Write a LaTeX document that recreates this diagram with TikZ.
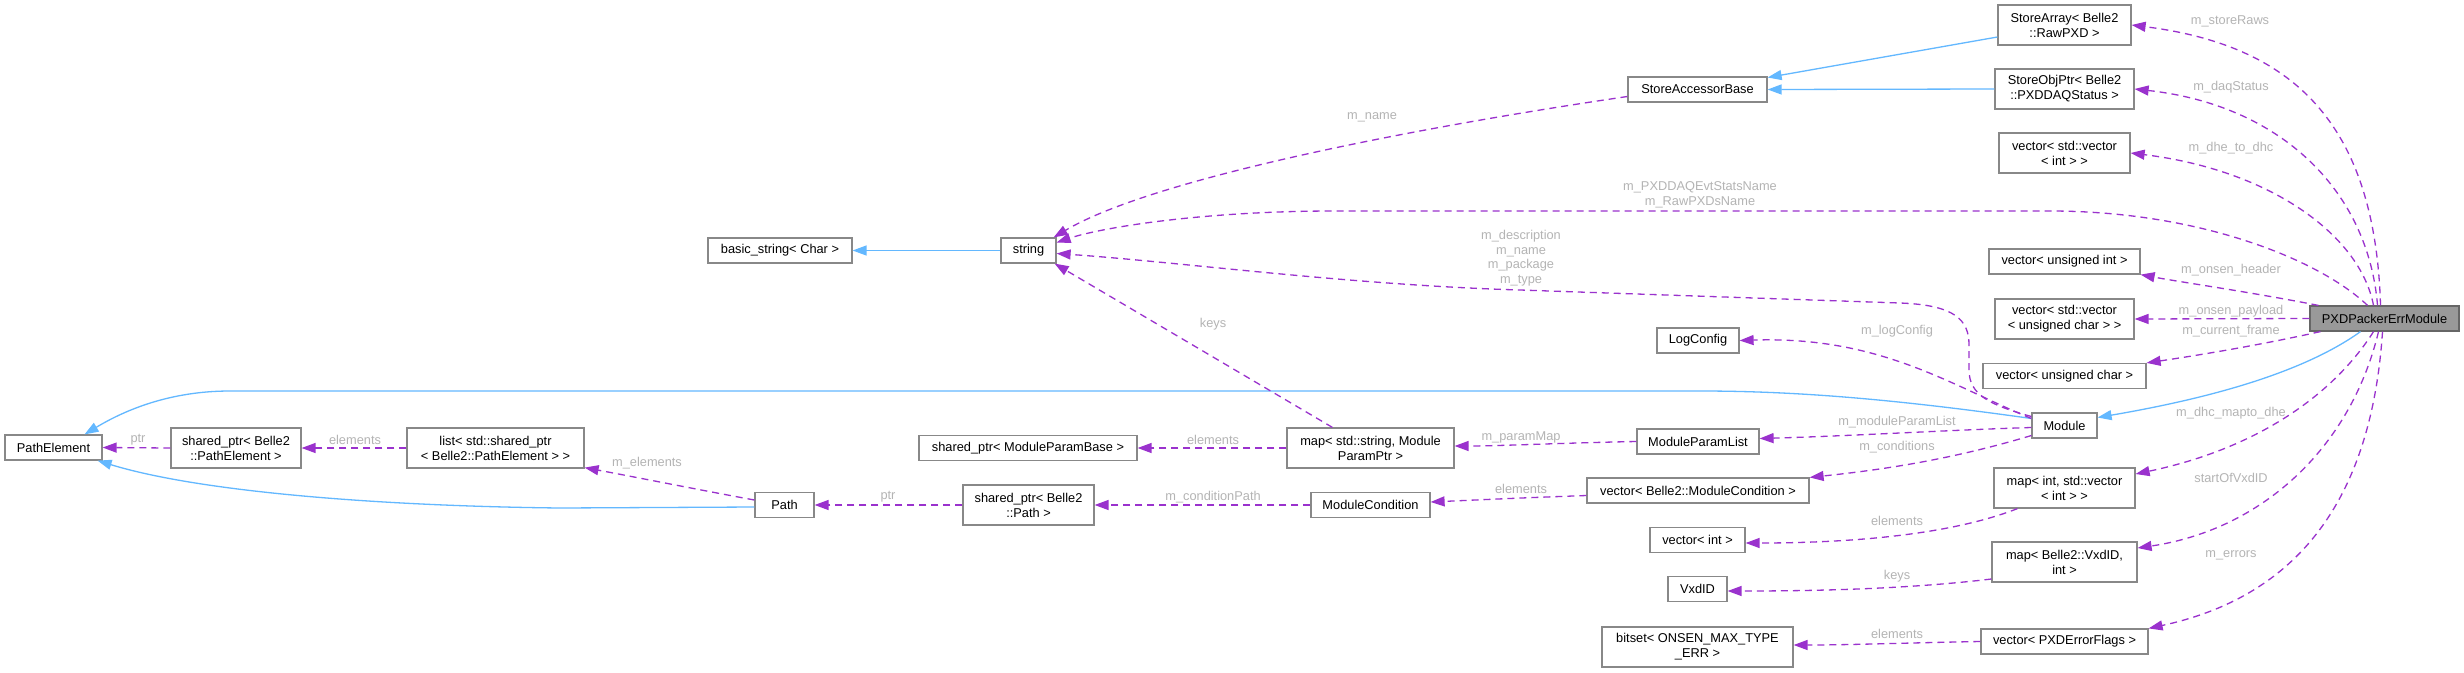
\documentclass[tikz,border=0pt]{standalone}
\usepackage{fontspec}
\setmainfont{Liberation Sans}
\usetikzlibrary{arrows.meta,calc}
\definecolor{cInh}{HTML}{63B8FF}
\definecolor{cUsg}{HTML}{9A32CD}
\definecolor{cLbl}{HTML}{B4B4B4}
\definecolor{cBord}{HTML}{888888}
\definecolor{cPxdFill}{HTML}{999999}
\definecolor{cPxdBord}{HTML}{666666}
\begin{document}
\begin{tikzpicture}[x=1pt,y=-1pt,
  box/.style={draw=cBord, line width=1.2pt, fill=white, inner sep=0pt, align=center,
    font=\fontsize{12.8}{15}\selectfont, text=black},
  lbl/.style={text=cLbl, inner sep=0pt, align=center, font=\fontsize{12.8}{14.5}\selectfont},
  inhedge/.style={draw=cInh, line width=1.3pt, -{Triangle[length=14pt,width=10pt,fill=cInh]}},
  usgedge/.style={draw=cUsg, line width=1.3pt, dash pattern=on 7pt off 5pt,
    -{Triangle[length=14pt,width=10pt,fill=cUsg]}}]
\useasboundingbox (0,0) rectangle (2464,672);
\fill[white] (0,0) rectangle (2464,672);

% nodes
\node[box, minimum width=97pt, minimum height=25pt] (pe) at (53.5,447.5) {PathElement};
\node[box, minimum width=130pt, minimum height=40pt] (spe) at (236,448) {shared\_ptr< Belle2\\::PathElement >};
\node[box, minimum width=177pt, minimum height=40pt] (lst) at (495.5,448) {list< std::shared\_ptr\\< Belle2::PathElement > >};
\node[box, minimum width=144pt, minimum height=25pt] (bstr) at (780,250.5) {basic\_string< Char >};
\node[box, minimum width=59pt, minimum height=25pt] (path) at (784.5,505) {Path};
\node[box, minimum width=55pt, minimum height=25pt] (str) at (1028.5,250.5) {string};
\node[box, minimum width=218pt, minimum height=25pt] (spmpb) at (1028,448) {shared\_ptr< ModuleParamBase >};
\node[box, minimum width=131pt, minimum height=40pt] (sppath) at (1028.5,505) {shared\_ptr< Belle2\\::Path >};
\node[box, minimum width=167pt, minimum height=40pt] (mapstr) at (1370.5,448) {map< std::string, Module\\ParamPtr >};
\node[box, minimum width=119pt, minimum height=25pt] (modcond) at (1370.5,505) {ModuleCondition};
\node[box, minimum width=139pt, minimum height=25pt] (sab) at (1697.5,89.5) {StoreAccessorBase};
\node[box, minimum width=82pt, minimum height=25pt] (logc) at (1698,340.5) {LogConfig};
\node[box, minimum width=122pt, minimum height=25pt] (mpl) at (1698,441.5) {ModuleParamList};
\node[box, minimum width=222pt, minimum height=25pt] (vmc) at (1698,490.5) {vector< Belle2::ModuleCondition >};
\node[box, minimum width=95pt, minimum height=25pt] (vint) at (1697.5,540) {vector< int >};
\node[box, minimum width=59pt, minimum height=25pt] (vxd) at (1697.5,589) {VxdID};
\node[box, minimum width=191pt, minimum height=40pt] (bits) at (1697.5,647) {bitset< ONSEN\_MAX\_TYPE\\\_ERR >};
\node[box, minimum width=133pt, minimum height=40pt] (sa) at (2064.5,25) {StoreArray< Belle2\\::RawPXD >};
\node[box, minimum width=139pt, minimum height=40pt] (sop) at (2064.5,89) {StoreObjPtr< Belle2\\::PXDDAQStatus >};
\node[box, minimum width=131pt, minimum height=40pt] (vvi) at (2064.5,153) {vector< std::vector\\< int > >};
\node[box, minimum width=151pt, minimum height=25pt] (vui) at (2064.5,261.5) {vector< unsigned int >};
\node[box, minimum width=139pt, minimum height=40pt] (vvuc) at (2064.5,319) {vector< std::vector\\< unsigned char > >};
\node[box, minimum width=163pt, minimum height=25pt] (vuc) at (2064.5,376) {vector< unsigned char >};
\node[box, minimum width=65pt, minimum height=25pt] (mod) at (2064.5,425.5) {Module};
\node[box, minimum width=141pt, minimum height=40pt] (mivi) at (2064.5,488) {map< int, std::vector\\< int > >};
\node[box, minimum width=145pt, minimum height=40pt] (mvxd) at (2064.5,562) {map< Belle2::VxdID,\\int >};
\node[box, minimum width=167pt, minimum height=25pt] (verr) at (2064.5,641.5) {vector< PXDErrorFlags >};
\node[box, minimum width=149pt, minimum height=25pt, fill=cPxdFill, draw=cPxdBord] (pxd) at (2384.5,318.5) {PXDPackerErrModule};

% inheritance edges
\draw[inhedge] ($(sa.west)+(0,12)$) -- ($(sab.east)+(0,-12)$);
\draw[inhedge] (sop.west) -- (sab.east);
\draw[inhedge] (str.west) -- (bstr.east);
\draw[inhedge] ($(pxd.south)+(-24,0)$) .. controls (2300,375) and (2200,400) .. ($(mod.east)+(0,-8)$);
\draw[inhedge] ($(mod.west)+(0,-7)$) .. controls (1900,400) and (1800,391) .. (1700,391) -- (230,391) .. controls (170,391) and (125,410) .. ($(pe.north)+(31,0)$);
\draw[inhedge] ($(path.west)+(0,2)$) -- (560,508) .. controls (380,506) and (200,492) .. ($(pe.south east)+(-5,0)$);

% usage edges
\draw[usgedge] ($(pxd.north)+(-4,0)$) .. controls (2375,120) and (2290,45) .. (sa.east);
\draw[usgedge] ($(pxd.north)+(-7,0)$) .. controls (2368,190) and (2280,105) .. (sop.east);
\draw[usgedge] ($(pxd.north)+(-11,0)$) .. controls (2360,235) and (2270,170) .. (vvi.east);
\draw[usgedge] ($(pxd.north)+(-17,0)$) .. controls (2320,260) and (2200,211) .. (2050,211) -- (1335,211) .. controls (1200,211) and (1100,228) .. ($(str.east)+(0,-8)$);
\draw[usgedge] ($(pxd.north west)+(9,0)$) .. controls (2250,292) and (2180,282) .. (vui.south east);
\draw[usgedge] (pxd.west) -- (vvuc.east);
\draw[usgedge] ($(pxd.south west)+(11,0)$) .. controls (2260,345) and (2200,355) .. (vuc.north east);
\draw[usgedge] ($(pxd.south)+(-11,0)$) .. controls (2330,400) and (2250,450) .. ($(mivi.east)+(0,-14)$);
\draw[usgedge] ($(pxd.south)+(-6,0)$) .. controls (2350,450) and (2260,530) .. ($(mvxd.east)+(0,-14)$);
\draw[usgedge] ($(pxd.south)+(-2,0)$) .. controls (2370,520) and (2280,600) .. (verr.north east);
\draw[usgedge] ($(mod.west)+(0,-9)$) .. controls (1990,405) and (1969,395) .. (1969,370) -- (1969,345) .. controls (1969,320) and (1955,305) .. (1900,303) -- (1520,290) .. controls (1350,285) and (1180,262) .. ($(str.east)+(0,3)$);
\draw[usgedge] ($(mod.west)+(0,-7)$) .. controls (1950,385) and (1880,336) .. (logc.east);
\draw[usgedge] ($(mod.west)+(0,2)$) .. controls (1950,430) and (1850,436) .. ($(mpl.east)+(0,-3)$);
\draw[usgedge] ($(mod.west)+(0,10)$) .. controls (1950,460) and (1880,470) .. (vmc.north east);
\draw[usgedge] (mpl.west) .. controls (1560,443) and (1500,446) .. ($(mapstr.east)+(0,-2)$);
\draw[usgedge] (mapstr.west) -- (spmpb.east);
\draw[usgedge] ($(mapstr.north west)+(46,0)$) -- ($(str.south east)+(-2,0)$);
\draw[usgedge] ($(vmc.west)+(0,5)$) .. controls (1520,498) .. ($(modcond.east)+(0,-3)$);
\draw[usgedge] (modcond.west) -- (sppath.east);
\draw[usgedge] (sppath.west) -- (path.east);
\draw[usgedge] ($(path.west)+(0,-5)$) .. controls (700,490) and (640,478) .. ($(lst.south east)+(0,-1)$);
\draw[usgedge] (lst.west) -- (spe.east);
\draw[usgedge] (spe.west) -- (pe.east);
\draw[usgedge] ($(sab.west)+(0,7)$) .. controls (1400,130) and (1150,180) .. ($(str.north east)+(-3,0)$);
\draw[usgedge] ($(mivi.south west)+(24,0)$) .. controls (1950,535) and (1850,543) .. ($(vint.east)+(0,3)$);
\draw[usgedge] ($(mvxd.west)+(0,17)$) .. controls (1900,590) and (1800,591) .. ($(vxd.east)+(0,2)$);
\draw[usgedge] (verr.west) .. controls (1900,643) and (1850,645) .. ($(bits.east)+(0,-2)$);

% labels
\node[lbl] (l1) at (2230,21) {m\_storeRaws};
\node[lbl] (l2) at (2231,87) {m\_daqStatus};
\node[lbl] (l3) at (2231,148) {m\_dhe\_to\_dhc};
\node[lbl] (l4) at (1700,195) {m\_PXDDAQEvtStatsName\\m\_RawPXDsName};
\node[lbl] (l5) at (1372,117) {m\_name};
\node[lbl] (l6) at (1521,258) {m\_description\\m\_name\\m\_package\\m\_type};
\node[lbl] (l7) at (1213,324) {keys};
\node[lbl] (l8) at (2231,270) {m\_onsen\_header};
\node[lbl] (l9) at (2231,311) {m\_onsen\_payload};
\node[lbl] (l10) at (2231,331) {m\_current\_frame};
\node[lbl] (l11) at (1897,331) {m\_logConfig};
\node[lbl] (l12) at (1897,422) {m\_moduleParamList};
\node[lbl] (l13) at (1897,447) {m\_conditions};
\node[lbl] (l14) at (1521,437) {m\_paramMap};
\node[lbl] (l15) at (1213,440) {elements};
\node[lbl] (l16) at (1213,497) {m\_conditionPath};
\node[lbl] (l17) at (1521,489) {elements};
\node[lbl] (l18) at (888,497) {ptr};
\node[lbl] (l19) at (647,463) {m\_elements};
\node[lbl] (l20) at (355,440) {elements};
\node[lbl] (l21) at (138,440) {ptr};
\node[lbl] (l22) at (2231,413) {m\_dhc\_mapto\_dhe};
\node[lbl] (l23) at (2231,478) {startOfVxdID};
\node[lbl] (l24) at (2231,555) {m\_errors};
\node[lbl] (l25) at (1897,521) {elements};
\node[lbl] (l26) at (1897,576) {keys};
\node[lbl] (l27) at (1897,634) {elements};
\end{tikzpicture}
\end{document}
